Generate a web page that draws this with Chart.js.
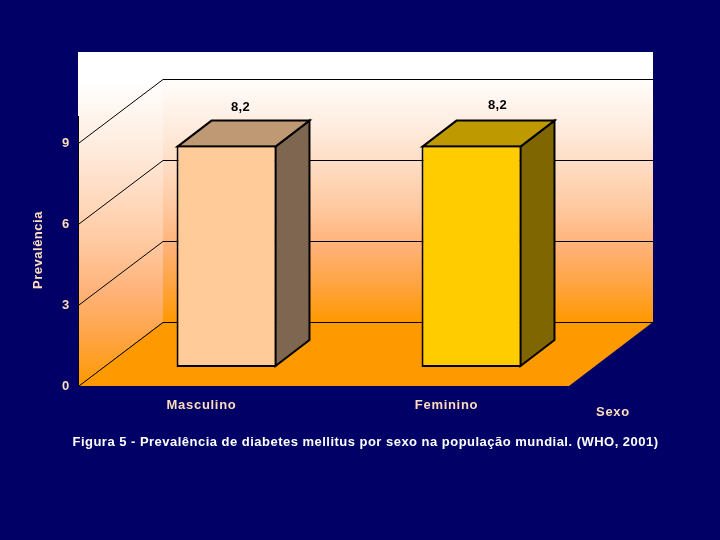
<!DOCTYPE html>
<html><head><meta charset="utf-8">
<style>html,body{margin:0;padding:0;background:#000066}canvas{display:block}</style>
<script src="https://cdn.jsdelivr.net/npm/chart.js@4/dist/chart.umd.min.js"></script>
</head><body><canvas id="c" width="720" height="540" style="width:720px;height:540px"></canvas>
<script>
const categories = ['Masculino', 'Feminino'];
const prevalencia = [8.2, 8.2];
const valueLabels = ['8,2', '8,2'];
const yTicks = [0, 3, 6, 9];
const yTitle = 'Prevalência';
const xTitle = 'Sexo';
const caption = 'Figura 5 - Prevalência de diabetes mellitus por sexo na população mundial. (WHO, 2001)';
const frontColors = ['#FFCC99', '#FFCC00'];
const sideColors = ['#7F6650', '#7F6600'];
const topColors = ['#BF9973', '#BF9900'];

const FONT = '"Liberation Sans", Arial, sans-serif';
const DX = 84, DY = 64;            // wall depth
const BX = 25, BY = 19;            // bar front offset from the floor front edge
const SX = 34, SY = 26;            // bar depth
const WALL_TOP = 52;
const LABEL_DX = [39, 51], LABEL_Y = [107, 105];

function wallGradient(ctx, y0, y1) {
  const g = ctx.createLinearGradient(0, y0, 0, y1);
  g.addColorStop(0, '#FFFFFF');
  g.addColorStop(0.08, '#FFFFFF');
  g.addColorStop(0.3, '#FFEADB');
  g.addColorStop(0.56, '#FFCBA4');
  g.addColorStop(0.72, '#FFB278');
  g.addColorStop(0.85, '#FFA546');
  g.addColorStop(1, '#FF9900');
  return g;
}
function poly(ctx, pts) {
  ctx.beginPath();
  pts.forEach((p, i) => i ? ctx.lineTo(p[0], p[1]) : ctx.moveTo(p[0], p[1]));
  ctx.closePath();
}
const scene = {
  id: 'scene',
  beforeDraw(chart) {
    const { ctx, chartArea: a, scales: { y } } = chart;
    ctx.letterSpacing = '0.7px';
    ctx.save();
    const L = a.left, R = a.right, B = a.bottom;
    ctx.fillStyle = '#000066';
    ctx.fillRect(0, 0, 720, 540);
    // left wall
    ctx.fillStyle = wallGradient(ctx, WALL_TOP, B);
    ctx.fillRect(L - 1, WALL_TOP, 1, 116 - WALL_TOP);
    poly(ctx, [[L, WALL_TOP], [L + DX, WALL_TOP], [L + DX, B - DY], [L, B]]);
    ctx.fill();
    // back wall
    ctx.fillStyle = wallGradient(ctx, WALL_TOP, B - DY);
    ctx.fillRect(L + DX, WALL_TOP, R - L, B - DY - WALL_TOP);
    // floor
    ctx.fillStyle = '#FF9900';
    poly(ctx, [[L, B], [R, B], [R + DX, B - DY], [L + DX, B - DY]]);
    ctx.fill();
    // grid lines on both walls
    ctx.strokeStyle = '#000000';
    ctx.lineWidth = 1;
    yTicks.forEach(v => {
      const py = Math.round(y.getPixelForValue(v));
      ctx.beginPath();
      ctx.moveTo(L, py);
      ctx.lineTo(L + DX, py - DY + 0.5);
      ctx.lineTo(R + DX, py - DY + 0.5);
      ctx.stroke();
    });
    ctx.beginPath();
    ctx.moveTo(L - 0.5, 116);
    ctx.lineTo(L - 0.5, B);
    ctx.stroke();
    ctx.restore();
  },
  beforeDatasetsDraw(chart) {
    const { ctx } = chart;
    const bars = chart.getDatasetMeta(0).data;
    ctx.save();
    ctx.translate(BX, -BY);
    ctx.strokeStyle = '#000000';
    ctx.lineWidth = 2;
    ctx.lineJoin = 'miter';
    bars.forEach((b, i) => {
      const l = b.x - b.width / 2 + 1, r = b.x + b.width / 2 - 1, t = b.y + 1, bt = b.base - 1;
      ctx.fillStyle = sideColors[i];
      poly(ctx, [[r, t], [r + SX, t - SY], [r + SX, bt - SY], [r, bt]]);
      ctx.fill(); ctx.stroke();
      ctx.fillStyle = topColors[i];
      poly(ctx, [[l, t], [l + SX, t - SY], [r + SX, t - SY], [r, t]]);
      ctx.fill(); ctx.stroke();
    });
  },
  afterDatasetsDraw(chart) {
    const { ctx } = chart;
    ctx.restore();
    const bars = chart.getDatasetMeta(0).data;
    ctx.save();
    ctx.textBaseline = 'middle';
    ctx.textAlign = 'center';
    ctx.font = 'bold 13px ' + FONT;
    ctx.fillStyle = '#000000';
    ctx.letterSpacing = '0.3px';
    bars.forEach((b, i) => ctx.fillText(valueLabels[i], b.x + LABEL_DX[i], LABEL_Y[i]));
    ctx.letterSpacing = '0.7px';
    ctx.fillStyle = '#FFDDBB';
    ctx.font = 'bold 13px ' + FONT;
    ctx.fillText(xTitle, 613, 412);
    ctx.save();
    ctx.translate(38, 250);
    ctx.rotate(-Math.PI / 2);
    ctx.letterSpacing = '0.5px';
    ctx.fillText(yTitle, 0, 0);
    ctx.restore();
    ctx.fillStyle = '#FFFFFF';
    ctx.font = 'bold 13px ' + FONT;
    ctx.letterSpacing = '0.48px';
    ctx.fillText(caption, 365.5, 442);
    ctx.restore();
  }
};
new Chart(document.getElementById('c'), {
  type: 'bar',
  data: {
    labels: categories,
    datasets: [{
      data: prevalencia,
      backgroundColor: frontColors,
      borderColor: '#000000',
      borderWidth: 2,
      borderSkipped: false,
      categoryPercentage: 1,
      barPercentage: 0.408
    }]
  },
  options: {
    responsive: false,
    animation: false,
    devicePixelRatio: 1,
    layout: { padding: { top: 143, right: 151, left: 0, bottom: 0 } },
    plugins: { legend: { display: false }, tooltip: { enabled: false } },
    scales: {
      x: {
        grid: { display: false, drawTicks: false },
        border: { display: false },
        afterFit(s) { s.height = 154; },
        ticks: { color: '#FFDDBB', padding: 12, font: { family: FONT, size: 13, weight: 'bold' }, maxRotation: 0 }
      },
      y: {
        min: 0, max: 9,
        grid: { display: false, drawTicks: false },
        border: { display: false },
        afterFit(s) { s.width = 79; },
        afterBuildTicks(s) { s.ticks = yTicks.map(v => ({ value: v })); },
        ticks: { color: '#FFDDBB', padding: 9, font: { family: FONT, size: 13, weight: 'bold' } }
      }
    }
  },
  plugins: [scene]
});
</script></body></html>
